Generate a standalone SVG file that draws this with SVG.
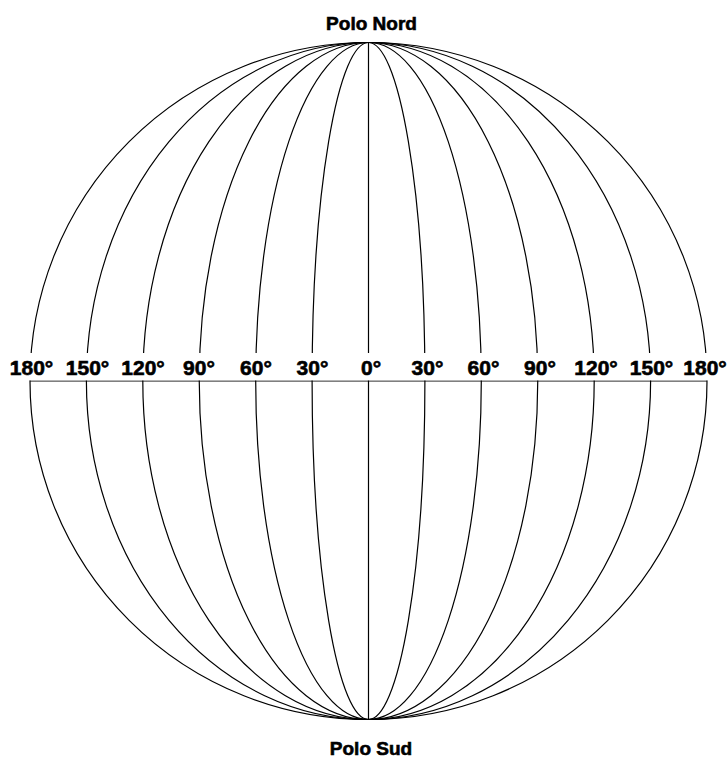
<svg xmlns="http://www.w3.org/2000/svg" width="728" height="760" viewBox="0 0 728 760">
<style>
.m{fill:none;stroke:#000;stroke-width:1.2}
.t{font-family:"Liberation Sans",Arial,sans-serif;font-weight:bold;font-size:21px;fill:#000;stroke:#000;stroke-width:0.6;text-anchor:middle}
.p{font-size:19px}
.bg{fill:#fff}
</style>
<rect width="728" height="760" fill="#fff"/>
<g id="connectors">
<ellipse class="m" cx="368.5" cy="381" rx="338.5" ry="338.5"/>
<ellipse class="m" cx="368.5" cy="381" rx="282.1" ry="338.5"/>
<ellipse class="m" cx="368.5" cy="381" rx="225.7" ry="338.5"/>
<ellipse class="m" cx="368.5" cy="381" rx="169.25" ry="338.5"/>
<ellipse class="m" cx="368.5" cy="381" rx="112.8" ry="338.5"/>
<ellipse class="m" cx="368.5" cy="381" rx="56.4" ry="338.5"/>
<line class="m" x1="368.5" y1="42.5" x2="368.5" y2="719.5"/>
<line class="m" x1="30" y1="381" x2="707" y2="381"/>
</g>
<g id="labels-bg">
<rect class="bg" x="0" y="353" width="728" height="27.4"/>
</g>
<g id="polo-nord"><text class="t p" x="371.5" y="29.5">Polo Nord</text></g>
<g id="polo-sud"><text class="t p" x="371" y="755">Polo Sud</text></g>
<g id="l180w"><text class="t" x="31.5" y="375">180°</text></g>
<g id="l150w"><text class="t" x="87.5" y="375">150°</text></g>
<g id="l120w"><text class="t" x="143" y="375">120°</text></g>
<g id="l90w"><text class="t" x="199" y="375">90°</text></g>
<g id="l60w"><text class="t" x="256" y="375">60°</text></g>
<g id="l30w"><text class="t" x="312.5" y="375">30°</text></g>
<g id="l0"><text class="t" x="371" y="375">0°</text></g>
<g id="l30e"><text class="t" x="427.5" y="375">30°</text></g>
<g id="l60e"><text class="t" x="483.5" y="375">60°</text></g>
<g id="l90e"><text class="t" x="540" y="375">90°</text></g>
<g id="l120e"><text class="t" x="596" y="375">120°</text></g>
<g id="l150e"><text class="t" x="651.5" y="375">150°</text></g>
<g id="l180e"><text class="t" x="705" y="375">180°</text></g>
</svg>
